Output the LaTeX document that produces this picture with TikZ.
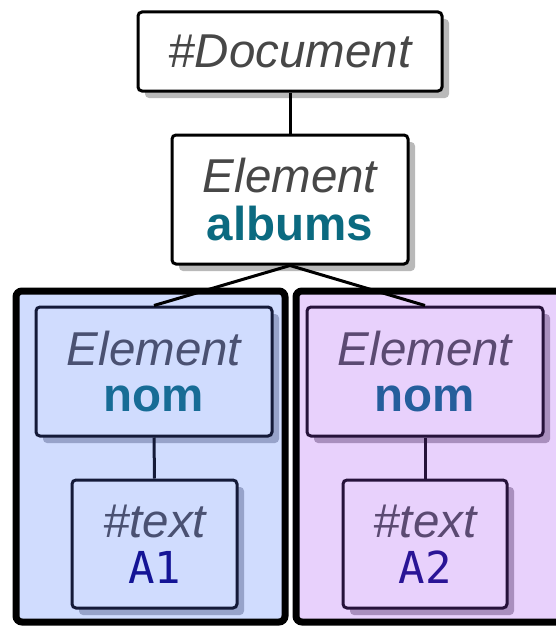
\documentclass[tikz,border=0pt]{standalone}
\usepackage{fontspec}
\setmainfont{Liberation Sans}
\newfontfamily\monofam{DejaVu Sans Mono}
\usetikzlibrary{shadows}
\definecolor{doctext}{HTML}{474747}
\definecolor{albumtext}{HTML}{0B6A80}
\definecolor{bluefill}{HTML}{D0DCFE}
\definecolor{purplefill}{HTML}{E8D1FC}
\definecolor{bluestroke}{HTML}{141A38}
\definecolor{purplestroke}{HTML}{26123A}
\definecolor{blueshadow}{HTML}{97A3CA}
\definecolor{purpleshadow}{HTML}{A98FBE}
\definecolor{blueelem}{HTML}{4A5172}
\definecolor{purpleelem}{HTML}{5B4A72}
\definecolor{bluenom}{HTML}{176C96}
\definecolor{purplenom}{HTML}{255E9C}
\definecolor{blueval}{HTML}{141496}
\definecolor{purpleval}{HTML}{2A1496}
\tikzset{
  treebox/.style={draw, line width=3pt, rounded corners=4pt, inner sep=0pt,
    align=center, font=\fontsize{47.5}{48}\selectfont,
    drop shadow={shadow xshift=7pt, shadow yshift=-7pt, opacity=1, fill=#1}},
  whitebox/.style={treebox=gray!55, fill=white, text=doctext},
  bluebox/.style={treebox=blueshadow, fill=bluefill, draw=bluestroke},
  purplebox/.style={treebox=purpleshadow, fill=purplefill, draw=purplestroke},
  group/.style={draw=black, line width=7pt, rounded corners=6pt},
  link/.style={line width=3pt},
}
\begin{document}
\begin{tikzpicture}[x=1pt, y=-1pt]
  \useasboundingbox (0,0) rectangle (555,626);
  % subtree groups
  \draw[group, fill=bluefill] (16,291) rectangle (285,622);
  \draw[group, fill=purplefill] (296,291) rectangle (565,622);
  % tree nodes and links
  \node[whitebox, minimum width=304pt, minimum height=79pt] (doc) at (290,51.5)
    {\itshape\#Document};
  \node[whitebox, minimum width=236pt, minimum height=129pt] (albums) at (290,199.5)
    {\itshape Element\\\color{albumtext}\bfseries albums};
  \draw[link] (doc.south) -- (albums.north);
  \node[bluebox, minimum width=236pt, minimum height=129pt] (nomA) at (154,371.5)
    {\color{blueelem}\itshape Element\\[-2pt]\color{bluenom}\bfseries nom};
  \node[purplebox, minimum width=236pt, minimum height=129pt] (nomB) at (425,371.5)
    {\color{purpleelem}\itshape Element\\[-2pt]\color{purplenom}\bfseries nom};
  \draw[link] (albums.south) -- (nomA.north);
  \draw[link] (albums.south) -- (nomB.north);
  \node[bluebox, minimum width=165pt, minimum height=128pt] (txtA) at (154.5,544)
    {\color{blueelem}\itshape\#text\\[-2pt]\color{blueval}\monofam\fontsize{44}{46}\selectfont A1};
  \node[purplebox, minimum width=164pt, minimum height=128pt] (txtB) at (425,544)
    {\color{purpleelem}\itshape\#text\\[-2pt]\color{purpleval}\monofam\fontsize{44}{46}\selectfont A2};
  \draw[link, bluestroke] (nomA.south) -- (txtA.north);
  \draw[link, purplestroke] (nomB.south) -- (txtB.north);
\end{tikzpicture}
\end{document}
